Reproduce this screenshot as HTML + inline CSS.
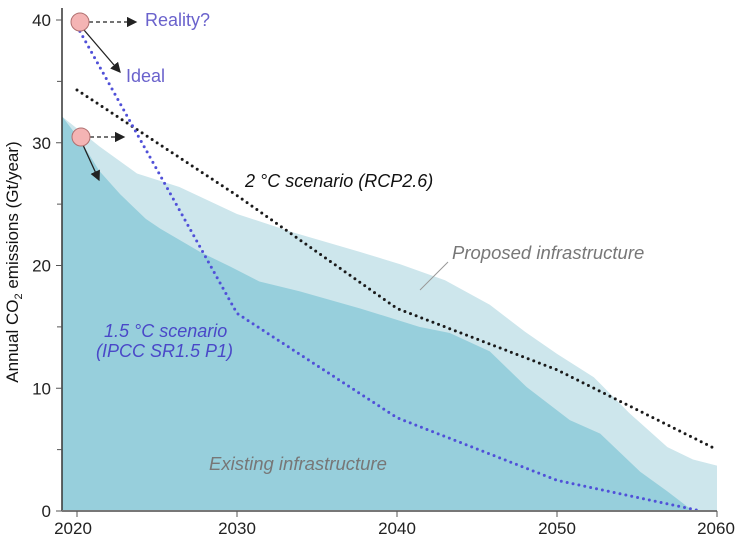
<!DOCTYPE html>
<html><head><meta charset="utf-8"><style>
html,body{margin:0;padding:0;background:#fff;}
svg{display:block;font-family:"Liberation Sans",Arial,sans-serif;}
</style></head><body>
<svg id="chart" width="739" height="540" viewBox="0 0 739 540">
<g id="plot"></g>
</svg>
<script>
const existingYears=[2019.1,2020.2,2021.4,2022.7,2024.3,2025.2,2027.7,2029.6,2031.4,2033.9,2037.7,2041.4,2043.3,2045.8,2048.1,2050.8,2052.7,2055.2,2056.9,2058.5];
const existingValues=[32.1,30.2,27.7,25.8,23.8,23.0,21.1,19.9,18.7,17.9,16.5,15.0,14.5,13.0,10.1,7.4,6.3,3.2,1.6,0];
const proposedYears=[2019.1,2021.4,2023.75,2026.4,2030,2033.5,2037.7,2040.2,2043,2045.8,2048,2050,2052.3,2054.5,2056.9,2058.5,2060];
const proposedValues=[32.1,29.7,27.5,26.4,24.2,22.7,21.1,20.1,18.8,16.8,14.6,12.8,10.9,8.0,5.2,4.2,3.7];
const rcpYears=[2020,2030,2040,2050,2060];
const rcpValues=[34.3,25.7,16.5,11.5,5.0];
const ipccYears=[2020,2030,2040,2050,2059];
const ipccValues=[39.5,16.1,7.6,2.5,0];
const xTicks=[2020,2030,2040,2050,2060];
const yTicks=[0,10,20,30,40];

const NS="http://www.w3.org/2000/svg";
const X=y=>77+(y-2020)*16;
const Y=v=>511-v*12.275;
const g=document.getElementById('plot');
function mk(t,a){const e=document.createElementNS(NS,t);for(const k in a)e.setAttribute(k,a[k]);g.appendChild(e);return e;}
function areaPath(xs,vs){let d='M'+X(xs[0])+','+Y(0);xs.forEach((x,i)=>d+=' L'+X(x)+','+Y(vs[i]));d+=' L'+X(xs[xs.length-1])+','+Y(0)+' Z';return d;}
function linePts(xs,vs){return xs.map((x,i)=>X(x)+','+Y(vs[i])).join(' ');}

let e=mk('path',{d:areaPath(proposedYears,proposedValues),fill:'#cde6ec'});


e=mk('path',{d:areaPath(existingYears,existingValues),fill:'#97cfdc'});


e=mk('polyline',{points:linePts(rcpYears,rcpValues),fill:'none',stroke:'#1a1a1a','stroke-width':3,'stroke-dasharray':'0 6','stroke-linecap':'round'});


e=mk('polyline',{points:linePts(ipccYears,ipccValues),fill:'none',stroke:'#5050d8','stroke-width':3,'stroke-dasharray':'0 6','stroke-linecap':'round'});



e=mk('line',{x1:62,y1:8,x2:62,y2:511,stroke:'#333','stroke-width':1.5});


e=mk('line',{x1:62,y1:511,x2:717,y2:511,stroke:'#777','stroke-width':2});


xTicks.forEach(t=>{
  mk('line',{x1:X(t),y1:511,x2:X(t),y2:517,stroke:'#555'});
  const tx=mk('text',{x:t===2060?716:(t===2020?73:X(t)),y:534,'text-anchor':'middle','font-size':17,fill:'#222'});
  tx.textContent=t;
  
  
});
yTicks.forEach(t=>{
  mk('line',{x1:56,y1:Y(t),x2:62,y2:Y(t),stroke:'#555'});
  const tx=mk('text',{x:51,y:Y(t)+6,'text-anchor':'end','font-size':17,fill:'#222'});
  tx.textContent=t;
  
  
});
[35,25,15,5].forEach(t=>mk('line',{x1:57,y1:Y(t),x2:62,y2:Y(t),stroke:'#555'}));
</script>
<svg style="position:absolute;left:0;top:0" width="739" height="540">
<defs><marker id="ah2" markerWidth="8" markerHeight="8" refX="7" refY="4" orient="auto"><path d="M0,0 L8,4 L0,8 Z" fill="#222"/></marker></defs>
<g font-family="Liberation Sans, Arial, sans-serif">
<text transform="translate(18,262) rotate(-90)" text-anchor="middle" font-size="17" fill="#111">Annual CO<tspan font-size="11" dy="4">2</tspan><tspan dy="-4"> emissions (Gt/year)</tspan></text>
<line x1="89" y1="22" x2="136" y2="22" stroke="#222" stroke-width="1.3" stroke-dasharray="4 3" marker-end="url(#ah2)"/>
<line x1="84" y1="30" x2="120" y2="72" stroke="#222" stroke-width="1.3" marker-end="url(#ah2)"/>
<line x1="90" y1="137" x2="124" y2="137" stroke="#222" stroke-width="1.3" stroke-dasharray="4 3" marker-end="url(#ah2)"/>
<line x1="83" y1="145" x2="99" y2="180" stroke="#222" stroke-width="1.3" marker-end="url(#ah2)"/>
<circle cx="80" cy="22" r="9" fill="#f4b4b4" stroke="#b07070" stroke-width="1"/>
<circle cx="81" cy="137" r="9" fill="#f4b4b4" stroke="#b07070" stroke-width="1"/>
<text x="145" y="26" font-size="18" fill="#6a62cc">Reality?</text>
<text x="126" y="82" font-size="18" fill="#6a62cc">Ideal</text>
<text x="245" y="187" font-size="18" font-style="italic" fill="#111">2 °C scenario (RCP2.6)</text>
<text x="452" y="259" font-size="18.5" font-style="italic" fill="#777">Proposed infrastructure</text>
<line x1="420" y1="290" x2="448" y2="262" stroke="#999" stroke-width="1"/>
<text x="104" y="337" font-size="18" font-style="italic" fill="#4a48c8">1.5 °C scenario</text>
<text x="96" y="357" font-size="18" font-style="italic" fill="#4a48c8">(IPCC SR1.5 P1)</text>
<text x="209" y="470" font-size="18.5" font-style="italic" fill="#777">Existing infrastructure</text>
</g></svg>
</body></html>
